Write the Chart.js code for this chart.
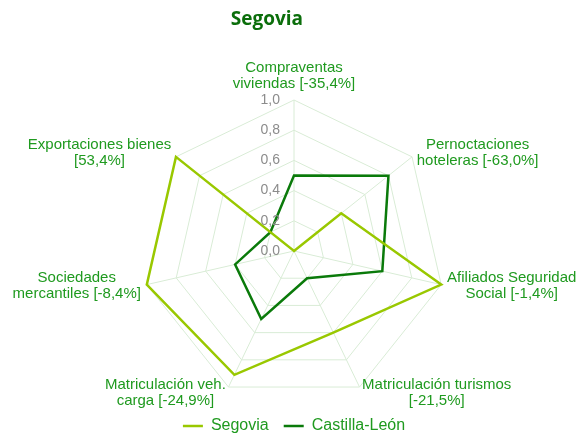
<!DOCTYPE html>
<html>
<head>
<meta charset="utf-8">
<script src="https://cdn.jsdelivr.net/npm/chart.js@4"></script>
<style>
  html, body { margin: 0; padding: 0; background: #fff; }
  #wrap { width: 580px; height: 434px; }
</style>
</head>
<body>
<div id="wrap"><canvas id="radarChart"></canvas></div>
<script>
// Indicators (year-on-year change shown in brackets)
const categories = [
  ['Compraventas', 'viviendas [-35,4%]'],
  ['Pernoctaciones', 'hoteleras [-63,0%]'],
  ['Afiliados Seguridad', 'Social [-1,4%]'],
  ['Matriculación turismos', '[-21,5%]'],
  ['Matriculación veh.', 'carga [-24,9%]'],
  ['Sociedades', 'mercantiles [-8,4%]'],
  ['Exportaciones bienes', '[53,4%]']
];

// Normalised values
const segovia = [0.0, 0.40, 1.0, 0.60, 0.91, 1.0, 1.0];
const castillaLeon = [0.50, 0.80, 0.60, 0.20, 0.50, 0.40, 0.20];

const tickMin = 0;
const tickMax = 1;
const tickStep = 0.2;

const labelGreen = '#1f9a1f';
const gridGreen = '#d9ecd6';
const tickGray = '#8c8c8c';

const fmt = v => v.toFixed(1).replace('.', ',');

// draws tick values (left of the vertical axis) and centred multi-line point labels
const axisText = {
  id: 'axisText',
  afterDatasetsDraw(chart) {
    const r = chart.scales.r;
    const ctx = chart.ctx;
    ctx.save();

    ctx.font = '14px "Liberation Sans"';
    ctx.fillStyle = tickGray;
    ctx.textAlign = 'right';
    ctx.textBaseline = 'middle';
    r.ticks.forEach(t => {
      const d = r.getDistanceFromCenterForValue(t.value);
      ctx.fillText(fmt(t.value), r.xCenter - 14, r.yCenter - d);
    });

    ctx.font = '15px "Liberation Sans"';
    ctx.fillStyle = labelGreen;
    ctx.textAlign = 'center';
    const lh = 16;
    chart.data.labels.forEach((lines, i) => {
      const top = i === 0;
      const p = r.getPointPosition(i, r.drawingArea + (top ? 8 : 6));
      const w = Math.max(...lines.map(l => ctx.measureText(l).width));
      const dx = p.x - r.xCenter;
      let cx = p.x;
      if (dx > 5) cx = p.x + w / 2;
      else if (dx < -5) cx = p.x - w / 2;
      let y0 = top ? p.y - lh * (lines.length - 1) - lh / 2 : p.y - lh * (lines.length - 1) / 2;
      lines.forEach((l, k) => ctx.fillText(l, cx, y0 + k * lh));
    });
    ctx.restore();
  }
};

new Chart(document.getElementById('radarChart'), {
  type: 'radar',
  data: {
    labels: categories,
    datasets: [
      {
        label: 'Segovia',
        data: segovia,
        borderColor: '#99c800',
        backgroundColor: 'transparent',
        borderWidth: 2.5,
        pointRadius: 0,
        fill: false
      },
      {
        label: 'Castilla-León',
        data: castillaLeon,
        borderColor: '#0a7a0a',
        backgroundColor: 'transparent',
        borderWidth: 2.5,
        pointRadius: 0,
        fill: false
      }
    ]
  },
  plugins: [axisText],
  options: {
    responsive: true,
    maintainAspectRatio: false,
    animation: false,
    layout: { padding: { left: 8, bottom: -10 } },
    plugins: {
      title: {
        display: true,
        text: 'Segovia' + '\u00a0'.repeat(11),
        color: '#0b6e0b',
        font: { family: 'Open Sans', size: 19, weight: 'bold' },
        padding: { top: 8, bottom: 70 }
      },
      legend: {
        position: 'bottom',
        labels: {
          usePointStyle: true,
          pointStyle: 'line',
          pointStyleWidth: 20,
          color: labelGreen,
          font: { family: 'Liberation Sans', size: 16 },
          padding: 15
        }
      },
      tooltip: { enabled: false }
    },
    scales: {
      r: {
        min: tickMin,
        max: tickMax,
        ticks: { stepSize: tickStep, display: false },
        grid: { color: gridGreen, lineWidth: 1 },
        angleLines: { color: gridGreen, lineWidth: 1 },
        pointLabels: { display: false }
      }
    }
  }
});
</script>
</body>
</html>
